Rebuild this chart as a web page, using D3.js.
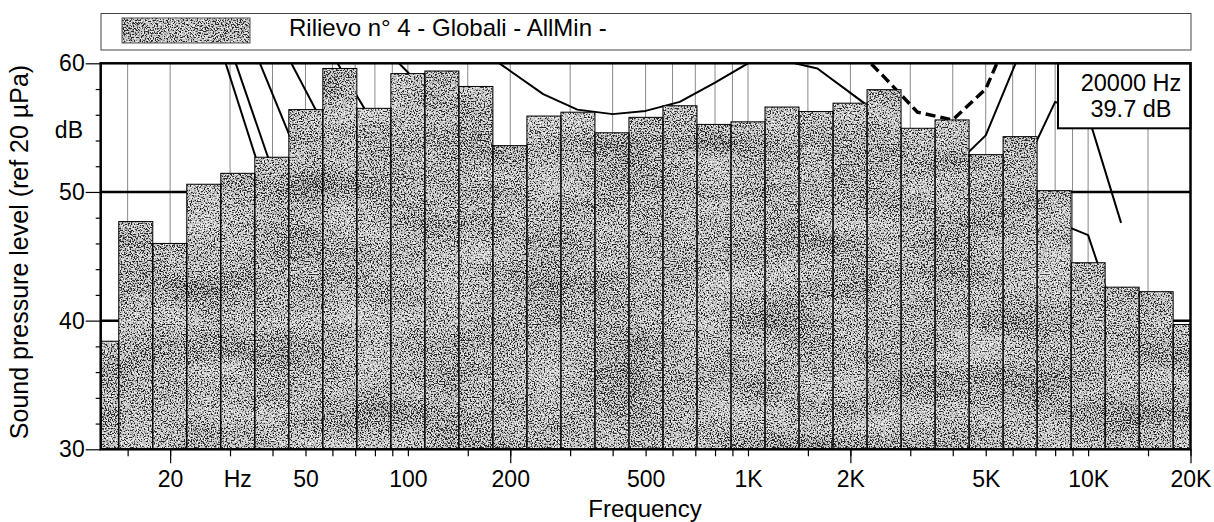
<!DOCTYPE html>
<html lang="it">
<head>
<meta charset="UTF-8">
<title>Rilievo n° 4 - Globali - AllMin</title>
<script src="https://d3js.org/d3.v7.min.js"></script>
<style>
  body { margin: 0; background: #fff; }
  svg { display: block; font-family: "Liberation Sans", Arial, sans-serif; }
</style>
</head>
<body>
<div id="chart"></div>
<script>
// third-octave bands (nominal) and measured levels, dB
var bands = ["12.5","16","20","25","31.5","40","50","63","80","100","125","160","200","250","315","400","500","630","800",
             "1K","1.25K","1.6K","2K","2.5K","3.15K","4K","5K","6.3K","8K","10K","12.5K","16K","20K"];
var levels = [38.4,47.7,46.0,50.6,51.45,52.7,56.4,59.6,56.5,59.2,59.4,58.2,53.6,55.9,56.2,54.6,55.8,56.7,55.25,
              55.45,56.6,56.25,56.9,57.95,54.95,55.6,52.9,54.3,50.1,44.5,42.6,42.25,39.7];
var firstBandIndex = 11; // 10^(11/10) = 12.5 Hz

// reference curves [Hz, dB]
var curveA = [[25, 65.5], [40, 48.6]];
var curveB = [[25, 67.4], [50, 44.2]];
var curveC = [[31.5, 64.3], [63, 44.9]];
var curveD = [[40, 62.8], [80, 47.6]];
var curveE = [[50, 64.2], [100, 50.8]];
var curveF = [[80, 61.9], [125, 56.7]];
var curveU = [[160, 61.2], [200, 59.4], [250, 57.6], [315, 56.4], [400, 56.05], [500, 56.3], [630, 57.0], [800, 58.5], [1000, 60.0], [1250, 61.5]];
var curveR = [[1000, 61.0], [1250, 60.25], [1600, 59.6], [2000, 57.7], [2500, 55.8], [3150, 53.9]];
var curveDashed = [[2000, 61.6], [2500, 59.0], [3150, 56.2], [4000, 55.6], [5000, 58.0], [6300, 64.1]];
var curveHi1 = [[4000, 51.9], [5000, 54.4], [6300, 60.8], [8000, 67]];
var curveHi2 = [[6300, 51.2], [8000, 57.0], [10000, 55.95], [12500, 47.6]];
var curveHi3 = [[8000, 47.7], [10000, 46.65], [12500, 38.97]];
var solidCurves = [curveA, curveB, curveC, curveD, curveE, curveF, curveU, curveR, curveHi1, curveHi2, curveHi3];

// axis
var gridFreqs = [15,20,30,40,50,60,70,80,90,100,150,200,300,400,500,600,700,800,900,1000,1500,2000,3000,4000,5000,6000,7000,8000,9000,10000,15000,20000];
var longTickFreqs = [20, 200, 2000, 20000];
var labelFreqs = [20, 31.5, 50, 100, 200, 500, 1000, 2000, 5000, 10000, 20000];
var labelTexts = ["20", "Hz", "50", "100", "200", "500", "1K", "2K", "5K", "10K", "20K"];
var yMajor = [30, 40, 50, 60];
var yMinor = [32, 34, 36, 38, 42, 44, 46, 48, 52, 54, 56, 58];

var W = 1214, H = 522;
var svg = d3.select("#chart").append("svg").attr("width", W).attr("height", H);

var x = d3.scaleLog().domain([12.5, 20000]).range([100.7, 1190.5]);
var y = d3.scaleLinear().domain([30, 60]).range([449.3, 63.3]);

var defs = svg.append("defs");
defs.append("clipPath").attr("id", "plot")
    .append("rect").attr("x", x(12.5)).attr("y", y(60)).attr("width", x(20000) - x(12.5)).attr("height", y(30) - y(60));

// speckled grey fill like the printed hatch, with faint blotches
var grain = defs.append("filter").attr("id", "grain").attr("filterUnits", "userSpaceOnUse")
    .attr("x", 0).attr("y", 0).attr("width", W).attr("height", H);
grain.append("feTurbulence").attr("type", "fractalNoise").attr("baseFrequency", 0.7)
    .attr("numOctaves", 3).attr("seed", 7).attr("result", "noise");
grain.append("feColorMatrix").attr("in", "noise").attr("type", "matrix")
    .attr("values", "3 0 0 0 -1.0  3 0 0 0 -1.0  3 0 0 0 -1.0  0 0 0 0 1").attr("result", "grey");
grain.append("feTurbulence").attr("type", "fractalNoise").attr("baseFrequency", "0.012 0.03")
    .attr("numOctaves", 2).attr("seed", 3).attr("result", "blot0");
grain.append("feColorMatrix").attr("in", "blot0").attr("type", "matrix")
    .attr("values", "1 0 0 0 0  1 0 0 0 0  1 0 0 0 0  0 0 0 0 1").attr("result", "blot");
grain.append("feComposite").attr("in", "grey").attr("in2", "blot").attr("operator", "arithmetic")
    .attr("k1", 0).attr("k2", 1).attr("k3", 0.5).attr("k4", -0.25).attr("result", "mix");
var ct = grain.append("feComponentTransfer").attr("in", "mix").attr("result", "tex");
["feFuncR", "feFuncG", "feFuncB"].forEach(function (fn) {
    ct.append(fn).attr("type", "discrete").attr("tableValues", "0.02 0.07 0.25 0.5 0.56 0.6 0.66 0.85");
});
grain.append("feComposite").attr("in", "tex").attr("in2", "SourceAlpha").attr("operator", "in");

// legend box
svg.append("rect").attr("x", 101).attr("y", 13.5).attr("width", 1090).attr("height", 36.5)
    .attr("fill", "#fff").attr("stroke", "#444").attr("stroke-width", 1);
svg.append("g").attr("filter", "url(#grain)")
    .append("rect").attr("x", 122).attr("y", 18).attr("width", 128).attr("height", 25).attr("fill", "#000");
svg.append("rect").attr("x", 122).attr("y", 18).attr("width", 128).attr("height", 25)
    .attr("fill", "none").attr("stroke", "#555").attr("stroke-width", 1);
svg.append("text").attr("x", 289).attr("y", 36).style("font-size", "24px")
    .text("Rilievo n° 4 - Globali - AllMin -");

var plot = svg.append("g").attr("clip-path", "url(#plot)");

// vertical grid
plot.selectAll(".vgrid").data(gridFreqs).enter().append("line")
    .attr("x1", function (d) { return x(d); }).attr("x2", function (d) { return x(d); })
    .attr("y1", y(30)).attr("y2", y(60))
    .attr("stroke", "#8a8a8a").attr("stroke-width", 1);

// horizontal grid 40 / 50
plot.selectAll(".hgrid").data([40, 50]).enter().append("line")
    .attr("x1", x(12.5)).attr("x2", x(20000))
    .attr("y1", function (d) { return y(d); }).attr("y2", function (d) { return y(d); })
    .attr("stroke", "#000").attr("stroke-width", 2.5);

var line = d3.line().x(function (d) { return x(d[0]); }).y(function (d) { return y(d[1]); });

plot.selectAll(".curve").data(solidCurves).enter().append("path")
    .attr("d", line).attr("fill", "none").attr("stroke", "#000").attr("stroke-width", 2)
    .attr("stroke-linejoin", "round");
plot.append("path").attr("d", line(curveDashed)).attr("fill", "none").attr("stroke", "#000")
    .attr("stroke-width", 3.4).attr("stroke-dasharray", "10,5");

// bars
var barData = bands.map(function (b, i) {
    var n = firstBandIndex + i;
    return { band: b, lo: Math.pow(10, (n - 0.5) / 10), hi: Math.pow(10, (n + 0.5) / 10), v: levels[i] };
});
plot.append("g").attr("filter", "url(#grain)")
    .selectAll("rect").data(barData).enter().append("rect")
    .attr("x", function (d) { return x(d.lo); })
    .attr("width", function (d) { return x(d.hi) - x(d.lo); })
    .attr("y", function (d) { return y(d.v); })
    .attr("height", function (d) { return y(30) - y(d.v); })
    .attr("fill", "#000");
plot.append("g").selectAll("rect").data(barData).enter().append("rect")
    .attr("x", function (d) { return x(d.lo); })
    .attr("width", function (d) { return x(d.hi) - x(d.lo); })
    .attr("y", function (d) { return y(d.v); })
    .attr("height", function (d) { return y(30) - y(d.v); })
    .attr("fill", "none").attr("stroke", "#000").attr("stroke-width", 1);

// cursor readout
svg.append("rect").attr("x", 1058).attr("y", y(60)).attr("width", x(20000) - 1058).attr("height", 65)
    .attr("fill", "#fff").attr("stroke", "#000").attr("stroke-width", 2);
svg.append("text").attr("x", 1131).attr("y", 90.7).attr("text-anchor", "middle").style("font-size", "23.5px").text("20000 Hz");
svg.append("text").attr("x", 1131).attr("y", 116.7).attr("text-anchor", "middle").style("font-size", "23.5px").text("39.7 dB");

// frame
svg.append("rect").attr("x", x(12.5)).attr("y", y(60)).attr("width", x(20000) - x(12.5)).attr("height", y(30) - y(60))
    .attr("fill", "none").attr("stroke", "#000").attr("stroke-width", 2.5);

// x axis
var xAxisG = svg.append("g").attr("transform", "translate(0," + y(30) + ")");
xAxisG.append("g").call(d3.axisBottom(x).tickValues(gridFreqs).tickSize(7).tickFormat(""));
xAxisG.append("g").call(d3.axisBottom(x).tickValues(longTickFreqs).tickSize(14).tickFormat(""));
xAxisG.append("g").call(d3.axisBottom(x).tickValues(labelFreqs).tickSize(0).tickPadding(21)
    .tickFormat(function (d, i) { return labelTexts[i]; }));
xAxisG.selectAll(".domain").remove();
xAxisG.selectAll(".tick line").attr("stroke", "#000").attr("stroke-width", 1.2);
xAxisG.selectAll("text").attr("font-family", null).style("font-size", "23px").attr("fill", "#000");

// y axis
var yAxisG = svg.append("g").attr("transform", "translate(" + x(12.5) + ",0)");
yAxisG.append("g").call(d3.axisLeft(y).tickValues(yMinor).tickSize(5).tickFormat(""));
yAxisG.append("g").call(d3.axisLeft(y).tickValues(yMajor).tickSize(15).tickPadding(1).tickFormat(d3.format("d")));
yAxisG.selectAll(".domain").remove();
yAxisG.selectAll(".tick line").attr("stroke", "#000").attr("stroke-width", 1.2);
yAxisG.selectAll("text").attr("font-family", null).style("font-size", "23px").attr("fill", "#000");

svg.append("text").attr("x", 83).attr("y", 137.5).attr("text-anchor", "end").style("font-size", "23px").text("dB");

svg.append("text").attr("x", 645).attr("y", 517).attr("text-anchor", "middle").style("font-size", "24px").text("Frequency");
svg.append("text").attr("transform", "translate(28,252) rotate(-90)").attr("text-anchor", "middle")
    .style("font-size", "25px").text("Sound pressure level (ref 20 µPa)");
</script>
</body>
</html>
